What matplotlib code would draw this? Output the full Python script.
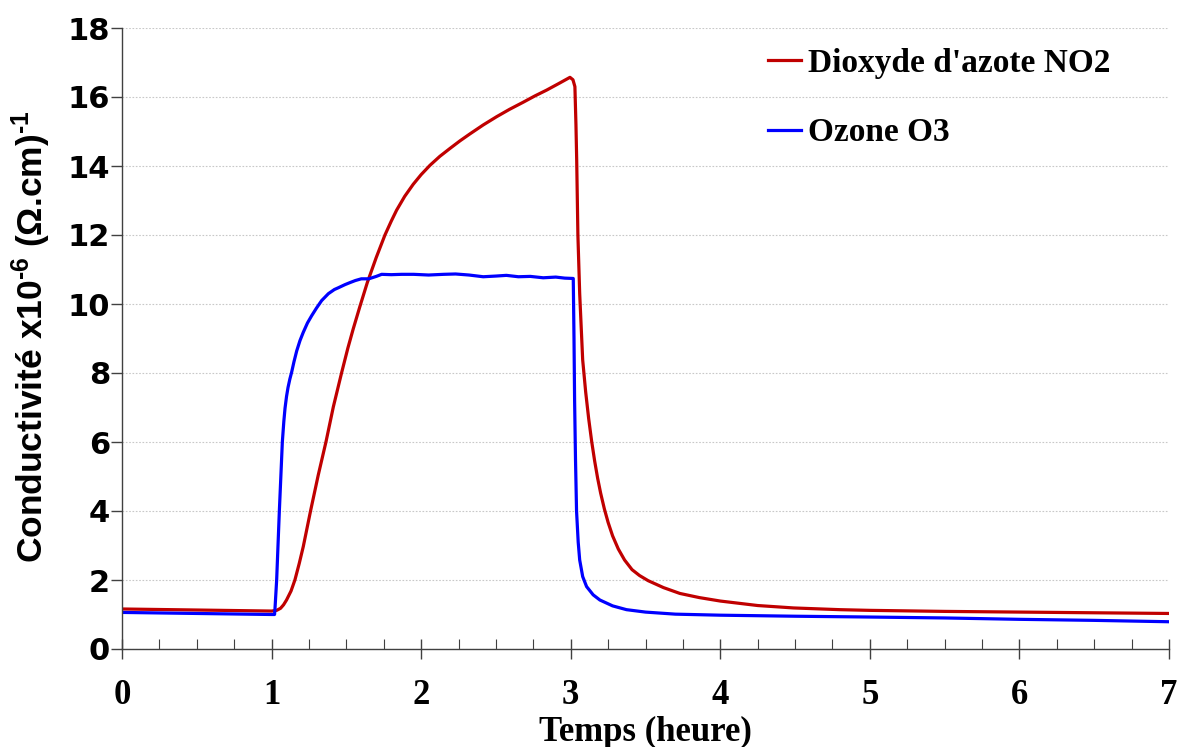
import matplotlib
matplotlib.use('Agg')
import matplotlib.pyplot as plt
from matplotlib.ticker import MultipleLocator

# time (hours) and conductivity (x1e-6 (ohm.cm)^-1)
no2_t = [0, 0.5, 1.0, 1.034, 1.06, 1.08, 1.10, 1.13, 1.156, 1.185, 1.212, 1.261,
         1.312, 1.364, 1.413, 1.469, 1.51, 1.546, 1.59, 1.64, 1.70, 1.758, 1.80,
         1.836, 1.89, 1.947, 2.00, 2.059, 2.125, 2.193, 2.26, 2.326, 2.415, 2.505,
         2.59, 2.683, 2.76, 2.839, 2.92, 2.995, 3.015, 3.028, 3.035, 3.04, 3.048,
         3.06, 3.08, 3.10, 3.12, 3.14, 3.16, 3.18, 3.20, 3.225, 3.25, 3.28, 3.318,
         3.36, 3.41, 3.46, 3.518, 3.62, 3.73, 3.86, 4.0, 4.25, 4.49, 4.8, 5.0,
         5.5, 6.0, 6.5, 7.0]
no2_y = [1.16, 1.13, 1.10, 1.12, 1.18, 1.28, 1.42, 1.68, 2.0, 2.48, 2.97, 4.01,
         5.04, 6.01, 7.02, 8.02, 8.72, 9.28, 9.92, 10.62, 11.35, 12.0, 12.4,
         12.72, 13.12, 13.47, 13.75, 14.02, 14.28, 14.51, 14.73, 14.93, 15.19, 15.43,
         15.64, 15.85, 16.03, 16.2, 16.39, 16.57, 16.5, 16.3, 15.2, 14.17, 12.0,
         10.3, 8.38, 7.45, 6.68, 6.02, 5.45, 4.95, 4.52, 4.06, 3.67, 3.28, 2.90,
         2.58, 2.30, 2.13, 1.98, 1.78, 1.61, 1.49, 1.39, 1.26, 1.19, 1.14, 1.12,
         1.09, 1.07, 1.05, 1.03]

o3_t = [0, 0.5, 1.0, 1.02, 1.023, 1.034, 1.043, 1.052, 1.062, 1.072, 1.082, 1.09,
        1.10, 1.11, 1.122, 1.134, 1.15, 1.168, 1.19, 1.212, 1.24, 1.268, 1.30,
        1.335, 1.38, 1.42, 1.446, 1.49, 1.524, 1.56, 1.60, 1.65, 1.70, 1.736,
        1.80, 1.87, 1.95, 2.05, 2.15, 2.23, 2.32, 2.415, 2.50, 2.57, 2.65, 2.73,
        2.816, 2.90, 2.96, 3.017, 3.022, 3.026, 3.032, 3.039, 3.05, 3.06, 3.08,
        3.106, 3.15, 3.195, 3.28, 3.373, 3.5, 3.7, 4.0, 4.5, 4.93, 5.5, 6.0,
        6.5, 7.0]
o3_y = [1.06, 1.03, 1.0, 1.0, 1.18, 2.0, 3.0, 4.0, 5.0, 6.0, 6.6, 6.98,
        7.32, 7.58, 7.82, 8.02, 8.33, 8.64, 8.94, 9.18, 9.45, 9.66, 9.88,
        10.1, 10.3, 10.42, 10.47, 10.56, 10.62, 10.68, 10.73, 10.73, 10.8, 10.86,
        10.85, 10.86, 10.86, 10.84, 10.86, 10.87, 10.84, 10.79, 10.81, 10.83, 10.79, 10.80,
        10.76, 10.78, 10.75, 10.74, 9.0, 7.2, 5.5, 4.0, 3.1, 2.58, 2.1,
        1.81, 1.57, 1.42, 1.25, 1.14, 1.07, 1.01, 0.98, 0.95, 0.93, 0.90, 0.86,
        0.83, 0.79]

serif = ['Liberation Serif', 'DejaVu Serif']
sans = ['Liberation Sans', 'DejaVu Sans']

plt.rcParams['mathtext.fontset'] = 'custom'
plt.rcParams['mathtext.rm'] = 'Liberation Sans:bold'
plt.rcParams['mathtext.it'] = 'Liberation Sans:bold'
plt.rcParams['mathtext.bf'] = 'Liberation Sans:bold'

fig = plt.figure(figsize=(11.8, 7.47), dpi=100)
ax = fig.add_axes([122 / 1180, 98 / 747, 1047 / 1180, 621 / 747])

ax.plot(no2_t, no2_y, color='#C00000', lw=2.3, label="Dioxyde d'azote NO2")
ax.plot(o3_t, o3_y, color='#0000FF', lw=2.3, label='Ozone O3')

ax.set_xlim(0, 7)
ax.set_ylim(0, 18)
ax.xaxis.set_major_locator(MultipleLocator(1))
ax.xaxis.set_minor_locator(MultipleLocator(0.25))
ax.yaxis.set_major_locator(MultipleLocator(2))
ax.grid(axis='y', color='#c8c8c8', linestyle=(0, (1.5, 1.5)), lw=0.8)
ax.set_axisbelow(True)

for s in ['top', 'right']:
    ax.spines[s].set_visible(False)
for s in ['left', 'bottom']:
    ax.spines[s].set_color('#404040')
    ax.spines[s].set_linewidth(1.0)

ax.tick_params(axis='x', which='major', direction='inout', length=15, width=1,
               color='#404040', pad=14)
ax.tick_params(axis='x', which='minor', direction='in', length=7, width=0.8,
               color='#404040')
ax.tick_params(axis='y', which='major', direction='out', length=8, width=1,
               color='#404040', pad=0.5)

for lab in ax.get_xticklabels():
    lab.set_fontfamily(serif)
    lab.set_fontweight('bold')
    lab.set_fontsize(25)
for lab in ax.get_yticklabels():
    lab.set_fontfamily(['DejaVu Sans'])
    lab.set_fontweight('bold')
    lab.set_fontsize(22)

ax.set_xlabel('Temps (heure)', fontfamily=serif, fontweight='bold', fontsize=25,
              labelpad=3)
ax.set_ylabel(r'Conductivité x10$^{\text{-}6}$ (Ω.cm)$^{\text{-}1}$',
              fontfamily=sans, fontweight='bold', fontsize=25.5)
ax.yaxis.set_label_coords(-0.066, 0.503)

leg = ax.legend(loc='upper left', bbox_to_anchor=(768 / 1180, 1 - 48 / 747),
                bbox_transform=fig.transFigure, frameon=False,
                prop={'family': serif, 'weight': 'bold', 'size': 24},
                handlelength=1.0, handletextpad=0.2, labelspacing=1.15,
                borderpad=0, borderaxespad=0)

fig.savefig('out.png', dpi=100)
